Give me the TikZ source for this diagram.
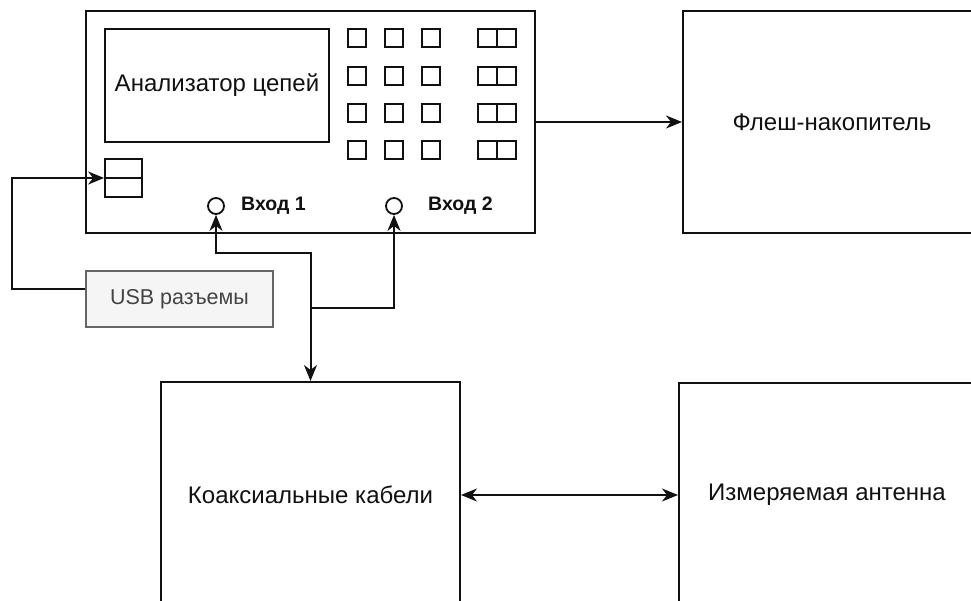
\documentclass[tikz,border=0pt]{standalone}
\usepackage{fontspec}
\setmainfont{Liberation Sans}
\usetikzlibrary{arrows.meta}
\definecolor{ink}{HTML}{111111}
\definecolor{usbfill}{HTML}{F5F5F5}
\definecolor{usbline}{HTML}{666666}
\definecolor{usbtext}{HTML}{444444}
\tikzset{
  box/.style={draw=ink, line width=2pt, fill=white, inner sep=0pt, text=ink,
              font=\fontsize{24}{28}\selectfont},
  key/.style={draw=ink, line width=1.8pt, minimum width=18pt, minimum height=18pt, inner sep=0pt},
  dkey/.style={draw=ink, line width=1.8pt, minimum width=38pt, minimum height=18pt, inner sep=0pt,
               path picture={\draw[ink, line width=1.8pt] (path picture bounding box.north) -- (path picture bounding box.south);}},
  jack/.style={draw=ink, line width=1.8pt, circle, minimum size=16pt, inner sep=0pt},
  jacklabel/.style={font=\bfseries\fontsize{19.5}{23}\selectfont, text=ink, inner sep=0pt},
  tip/.tip={Stealth[length=16pt, width=13pt, inset=5pt]},
  arr/.style={draw=ink, line width=2pt, -tip},
  darr/.style={draw=ink, line width=2pt, tip-tip},
}
\begin{document}
\begin{tikzpicture}[x=1pt, y=-1pt]
  \useasboundingbox (0,0) rectangle (971,601);
  \clip (0,0) rectangle (971,601);

  % analyser body
  \node[box, minimum width=449pt, minimum height=222pt] (main) at (310.5,122) {};
  \node[box, minimum width=224pt, minimum height=113pt] (screen) at (217,85.5) {Анализатор цепей};

  % keypad: three columns of single keys and one column of double keys
  \foreach \r/\y in {1/38, 2/76, 3/113, 4/150} {
    \foreach \c/\x in {1/357, 2/394, 3/431} {
      \node[key] (k-\r-\c) at (\x,\y) {};
    }
    \node[dkey] (d-\r) at (497,\y) {};
  }

  % USB port on the front panel
  \node[draw=ink, line width=1.8pt, minimum width=37pt, minimum height=38pt, inner sep=0pt,
        path picture={\draw[ink, line width=1.8pt] (path picture bounding box.west) -- (path picture bounding box.east);}]
        (port) at (123.5,178) {};

  % input jacks
  \node[jack] (in1) at (216,206) {};
  \node[jack] (in2) at (394,206) {};
  \node[jacklabel, anchor=west] (l1) at (241,206) {Вход 1};
  \node[jacklabel, anchor=west] (l2) at (428,206) {Вход 2};

  % external blocks
  \node[box, minimum width=298pt, minimum height=222pt] (flash) at (832,122) {Флеш-накопитель};
  \node[box, minimum width=299pt, minimum height=226pt] (coax) at (310.5,495) {Коаксиальные кабели};
  \node[box, minimum width=296pt, minimum height=224pt] (ant) at (827,495) {Измеряемая антенна};

  \node[draw=usbline, fill=usbfill, line width=1.6pt, text=usbtext, minimum width=187pt, minimum height=56pt,
        inner sep=0pt, font=\fontsize{21.5}{25}\selectfont] (usb) at (179.5,299) {USB разъемы};

  % connections
  \coordinate (j1) at (310.5,253);
  \coordinate (j2) at (310.5,308);
  \coordinate (u1) at (12,289);

  \draw[arr] (main.east) -- (flash.west);
  \draw[darr] (coax.east) -- (ant.west);
  \draw[arr] ([yshift=10pt]usb.west) -- (u1) |- (port.west);
  \draw[darr] (in1.south) |- (j1) -- (coax.north);
  \draw[arr] (j2) -| (in2.south);
\end{tikzpicture}
\end{document}
